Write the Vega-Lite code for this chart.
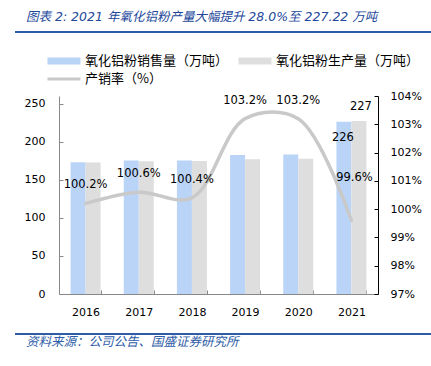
{
  "$schema": "https://vega.github.io/schema/vega-lite/v6.json",
  "padding": {"left": 15, "top": 10, "right": 0, "bottom": 0},
  "background": "white",
  "spacing": 16,
  "resolve": {"scale": {"color": "independent", "x": "independent", "y": "independent"}, "legend": {"color": "independent"}, "axis": {"x": "independent", "y": "independent"}},
  "config": {
    "font": "DejaVu Sans, Noto Sans CJK SC",
    "view": {"stroke": null},
    "axis": {"grid": false, "labelFont": "DejaVu Sans", "labelFontSize": 11, "labelColor": "#000000", "title": null, "labelOverlap": false, "tickCount": 20}
  },
  "datasets": {
    "bars": [
      {"year": "2016", "series": "氧化铝粉销售量（万吨）", "value": 173.0},
      {"year": "2016", "series": "氧化铝粉生产量（万吨）", "value": 172.6},
      {"year": "2017", "series": "氧化铝粉销售量（万吨）", "value": 175.2},
      {"year": "2017", "series": "氧化铝粉生产量（万吨）", "value": 174.2},
      {"year": "2018", "series": "氧化铝粉销售量（万吨）", "value": 175.3},
      {"year": "2018", "series": "氧化铝粉生产量（万吨）", "value": 174.6},
      {"year": "2019", "series": "氧化铝粉销售量（万吨）", "value": 182.5},
      {"year": "2019", "series": "氧化铝粉生产量（万吨）", "value": 176.8},
      {"year": "2020", "series": "氧化铝粉销售量（万吨）", "value": 183.2},
      {"year": "2020", "series": "氧化铝粉生产量（万吨）", "value": 177.5},
      {"year": "2021", "series": "氧化铝粉销售量（万吨）", "value": 226.3},
      {"year": "2021", "series": "氧化铝粉生产量（万吨）", "value": 227.22}
    ],
    "rate": [
      {"year": "2016", "rate": 1.002},
      {"year": "2017", "rate": 1.006},
      {"year": "2018", "rate": 1.004},
      {"year": "2019", "rate": 1.032},
      {"year": "2020", "rate": 1.032},
      {"year": "2021", "rate": 0.996}
    ]
  },
  "vconcat": [
    {
      "width": 416,
      "height": 2,
      "view": {"fill": "#2E5CA8", "stroke": null},
      "title": {"text": "图表 2:  2021 年氧化铝粉产量大幅提升 28.0%至 227.22 万吨", "anchor": "start", "dx": 11, "offset": 8, "fontSize": 12.5, "fontStyle": "italic", "fontWeight": "normal", "color": "#23479A", "font": "DejaVu Sans, Noto Sans CJK SC"},
      "data": {"values": []},
      "mark": {"type": "text"},
      "encoding": {}
    },
    {
      "spacing": 0,
      "resolve": {"scale": {"color": "independent", "x": "independent", "y": "independent"}, "legend": {"color": "independent"}},
      "hconcat": [
        {
          "width": 1,
          "height": 198,
          "data": {"values": []},
          "mark": {"type": "text"},
          "encoding": {}
        },
        {
          "width": 319,
          "height": 198,
          "layer": [
            {
              "layer": [
                {
                  "data": {"name": "bars"},
                  "mark": {"type": "bar"},
                  "encoding": {
                    "x": {"field": "year", "type": "ordinal", "scale": {"paddingInner": 0.436, "paddingOuter": 0.218},
                      "axis": {"title": null, "labelAngle": 0, "tickBand": "extent", "tickSize": -4, "domainColor": "#888888", "tickColor": "#888888", "labelPadding": 16, "labelOverlap": false}},
                    "xOffset": {"field": "series", "type": "nominal", "sort": ["氧化铝粉销售量（万吨）", "氧化铝粉生产量（万吨）"], "scale": {"domain": ["氧化铝粉销售量（万吨）", "氧化铝粉生产量（万吨）"], "paddingInner": 0, "paddingOuter": 0}},
                    "y": {"field": "value", "type": "quantitative", "scale": {"domain": [0, 250]},
                      "axis": {"orient": "left", "values": [0, 50, 100, 150, 200, 250], "tickCount": 20, "tickSize": -4, "tickColor": "#888888", "domainColor": "#888888", "labelPadding": 18, "minExtent": 43, "title": null, "labelOverlap": false}},
                    "color": {"field": "series", "type": "nominal",
                      "scale": {"domain": ["氧化铝粉销售量（万吨）", "氧化铝粉生产量（万吨）", "产销率（%）"], "range": ["#BAD4F8", "#DEDEDE", "#C9C9C9"]},
                      "legend": {"orient": "none", "legendX": -7, "legendY": -47, "columns": 2, "direction": "horizontal", "title": null, "symbolSize": 196, "labelFontSize": 13, "labelFont": "Noto Sans CJK SC", "labelColor": "#000000", "labelOffset": 14, "columnPadding": 9, "rowPadding": 4, "padding": 5, "labelLimit": 300,
                        "encode": {"symbols": {"update": {
                          "shape": {"signal": "datum.value === '产销率（%）' ? 'M-2.36,-0.23H2.36V0.23H-2.36Z' : 'M-2.36,-0.5H2.36V0.5H-2.36Z'"},
                          "fill": {"scale": "color", "field": "value"},
                          "strokeWidth": {"value": 0},
                          "opacity": {"value": 1}
                        }}}}
                    }
                  }
                },
                {
                  "data": {"name": "bars"},
                  "transform": [{"filter": "datum.year === '2021' && datum.series === '氧化铝粉销售量（万吨）'"}],
                  "mark": {"type": "text", "dy": 16, "dx": -1, "fontSize": 11.5, "font": "DejaVu Sans", "color": "#000000"},
                  "encoding": {
                    "x": {"field": "year", "type": "ordinal"},
                    "xOffset": {"field": "series", "type": "nominal", "sort": ["氧化铝粉销售量（万吨）", "氧化铝粉生产量（万吨）"], "scale": {"domain": ["氧化铝粉销售量（万吨）", "氧化铝粉生产量（万吨）"]}},
                    "y": {"field": "value", "type": "quantitative"},
                    "text": {"field": "value", "type": "quantitative", "format": ".0f"}
                  }
                },
                {
                  "data": {"name": "bars"},
                  "transform": [{"filter": "datum.year === '2021' && datum.series === '氧化铝粉生产量（万吨）'"}],
                  "mark": {"type": "text", "dy": -14, "dx": 2, "fontSize": 11.5, "font": "DejaVu Sans", "color": "#000000"},
                  "encoding": {
                    "x": {"field": "year", "type": "ordinal"},
                    "xOffset": {"field": "series", "type": "nominal", "sort": ["氧化铝粉销售量（万吨）", "氧化铝粉生产量（万吨）"], "scale": {"domain": ["氧化铝粉销售量（万吨）", "氧化铝粉生产量（万吨）"]}},
                    "y": {"field": "value", "type": "quantitative"},
                    "text": {"field": "value", "type": "quantitative", "format": ".0f"}
                  }
                }
              ]
            },
            {
              "layer": [
                {
                  "data": {"name": "rate"},
                  "mark": {"type": "line", "interpolate": "catmull-rom", "strokeWidth": 3.5, "strokeCap": "round"},
                  "encoding": {
                    "x": {"field": "year", "type": "ordinal"},
                    "y": {"field": "rate", "type": "quantitative", "scale": {"domain": [0.97, 1.04]},
                      "axis": {"orient": "right", "format": ".0%", "values": [0.97, 0.98, 0.99, 1.0, 1.01, 1.02, 1.03, 1.04], "tickCount": 20, "tickSize": -4, "tickColor": "#000000", "domainColor": "#000000", "labelPadding": 16, "title": null, "labelOverlap": false}},
                    "color": {"datum": "产销率（%）", "type": "nominal"}
                  }
                },
                {
                  "data": {"name": "rate"},
                  "transform": [{"filter": "datum.year !== '2021'"}],
                  "mark": {"type": "text", "dy": -18, "fontSize": 11.5, "font": "DejaVu Sans", "color": "#000000"},
                  "encoding": {
                    "x": {"field": "year", "type": "ordinal"},
                    "y": {"field": "rate", "type": "quantitative"},
                    "text": {"field": "rate", "type": "quantitative", "format": ".1%"}
                  }
                },
                {
                  "data": {"name": "rate"},
                  "transform": [{"filter": "datum.year === '2021'"}],
                  "mark": {"type": "text", "dy": -42, "dx": 3, "fontSize": 11.5, "font": "DejaVu Sans", "color": "#000000"},
                  "encoding": {
                    "x": {"field": "year", "type": "ordinal"},
                    "y": {"field": "rate", "type": "quantitative"},
                    "text": {"field": "rate", "type": "quantitative", "format": ".1%"}
                  }
                }
              ]
            }
          ],
          "resolve": {"scale": {"y": "independent"}}
        }
      ]
    },
    {
      "width": 416,
      "height": 2,
      "view": {"fill": "#2E5CA8", "stroke": null},
      "title": {"text": "资料来源：公司公告、国盛证券研究所", "orient": "bottom", "anchor": "start", "dx": 11, "offset": 1, "fontSize": 12.5, "fontStyle": "italic", "fontWeight": "normal", "color": "#2E5CA8", "font": "Noto Sans CJK SC"},
      "data": {"values": []},
      "mark": {"type": "text"},
      "encoding": {}
    }
  ]
}
